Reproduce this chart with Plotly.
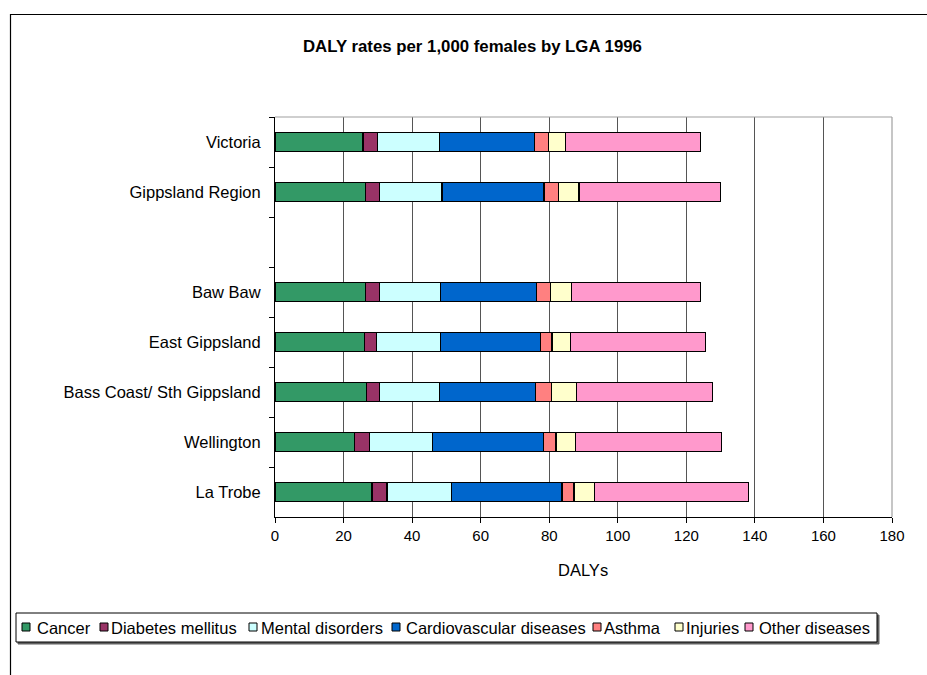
import plotly.graph_objects as go

# ---------------- data ----------------
categories = ["Victoria", "Gippsland Region", " ", "Baw Baw", "East Gippsland",
              "Bass Coast/ Sth Gippsland", "Wellington", "La Trobe"]
series_names = ["Cancer", "Diabetes mellitus", "Mental disorders",
                "Cardiovascular diseases", "Asthma", "Injuries", "Other diseases"]
cancer = [25.7, 26.5, None, 26.5, 26.1, 26.8, 23.2, 28.3]
diabetes = [4.1, 3.9, None, 3.9, 3.6, 3.6, 4.3, 4.4]
mental = [18.2, 18.3, None, 17.9, 18.6, 17.5, 18.5, 18.7]
cardio = [27.7, 29.8, None, 28.1, 29.2, 28.1, 32.3, 32.3]
asthma = [4.0, 4.2, None, 4.0, 3.3, 4.7, 3.7, 3.5]
injuries = [5.0, 6.0, None, 6.1, 5.3, 7.3, 5.6, 6.0]
other = [39.5, 41.3, None, 37.6, 39.4, 39.7, 42.7, 45.0]
series_values = [cancer, diabetes, mental, cardio, asthma, injuries, other]
x_ticks = [0, 20, 40, 60, 80, 100, 120, 140, 160, 180]
title_text = "DALY rates per 1,000 females by LGA 1996"
x_title = "DALYs"

# ---------------- style ----------------
colors = ["#339966", "#993366", "#CCFFFF", "#0066CC", "#FF8080", "#FFFFCC", "#FF99CC"]
FONT = "Liberation Sans, Arial, sans-serif"
W, H = 927, 675
ML, MR, MT, MB = 275, 35, 117, 158
PW, PH = W - ML - MR, H - MT - MB


def px(p):
    return (p - ML) / PW


def py(p):
    return (H - MB - p) / PH


fig = go.Figure()
for name, vals, col in zip(series_names, series_values, colors):
    fig.add_trace(go.Bar(
        y=categories, x=vals, name=name, orientation="h",
        marker=dict(color=col, line=dict(color="black", width=1.2)),
        showlegend=False,
    ))

shapes = []
annotations = []

# outer chart border (extends past the window on right/bottom)
shapes.append(dict(type="rect", xref="paper", yref="paper",
                   x0=px(10.5), x1=px(940), y0=py(690), y1=py(14.5),
                   line=dict(color="black", width=1.2), fillcolor="rgba(0,0,0,0)",
                   layer="below"))
# plot-area top and right border (grey)
shapes.append(dict(type="line", xref="paper", yref="paper", x0=0, x1=1, y0=1, y1=1,
                   line=dict(color="#a0a0a0", width=1.2), layer="above"))
shapes.append(dict(type="line", xref="paper", yref="paper", x0=1, x1=1, y0=0, y1=1,
                   line=dict(color="#a0a0a0", width=1.2), layer="above"))

# custom legend
leg_sq_x = [22, 100, 249, 392, 593, 675, 745]
leg_tx_x = [35, 109, 259, 404, 602, 684, 757]
shapes.append(dict(type="rect", xref="paper", yref="paper",
                   x0=px(18), x1=px(879), y0=py(644), y1=py(615),
                   line=dict(color="#606060", width=1), fillcolor="#606060", layer="above"))
shapes.append(dict(type="rect", xref="paper", yref="paper",
                   x0=px(16), x1=px(877), y0=py(642), y1=py(613),
                   line=dict(color="black", width=1), fillcolor="white", layer="above"))
for name, col, sx, tx in zip(series_names, colors, leg_sq_x, leg_tx_x):
    shapes.append(dict(type="rect", xref="paper", yref="paper",
                       x0=px(sx), x1=px(sx + 8), y0=py(631), y1=py(623),
                       line=dict(color="black", width=1), fillcolor=col, layer="above"))
    annotations.append(dict(text=name, xref="paper", yref="paper", x=px(tx), y=py(627.5),
                            xanchor="left", yanchor="middle", showarrow=False,
                            font=dict(family=FONT, size=16.5, color="black")))

# title
annotations.append(dict(text="<b>" + title_text + "</b>", xref="paper", yref="paper",
                        x=px(472), y=py(47), xanchor="center", yanchor="middle",
                        showarrow=False, font=dict(family=FONT, size=16.8, color="black")))
# x axis title
annotations.append(dict(text=x_title, xref="paper", yref="paper",
                        x=px(583), y=py(570), xanchor="center", yanchor="middle",
                        showarrow=False, font=dict(family=FONT, size=16.5, color="black")))

fig.update_layout(
    width=W, height=H,
    margin=dict(l=ML, r=MR, t=MT, b=MB, pad=0),
    paper_bgcolor="white", plot_bgcolor="white",
    barmode="stack", bargap=0.62,
    font=dict(family=FONT, size=16, color="black"),
    shapes=shapes, annotations=annotations,
    xaxis=dict(range=[0, 180], tickvals=x_ticks, ticktext=[str(v) for v in x_ticks],
               showgrid=True, gridcolor="#555555", gridwidth=1,
               showline=True, linecolor="black", linewidth=1,
               ticks="outside", ticklen=5, tickcolor="black",
               tickfont=dict(family=FONT, size=15), zeroline=False, fixedrange=True),
    yaxis=dict(categoryorder="array", categoryarray=categories, autorange="reversed",
               showgrid=False, showline=True, linecolor="black", linewidth=1,
               ticks="outside", ticklen=5, tickcolor="black", tickson="boundaries",
               ticklabelstandoff=10,
               tickfont=dict(family=FONT, size=16.5), fixedrange=True),
)

fig.write_html("out.html")
